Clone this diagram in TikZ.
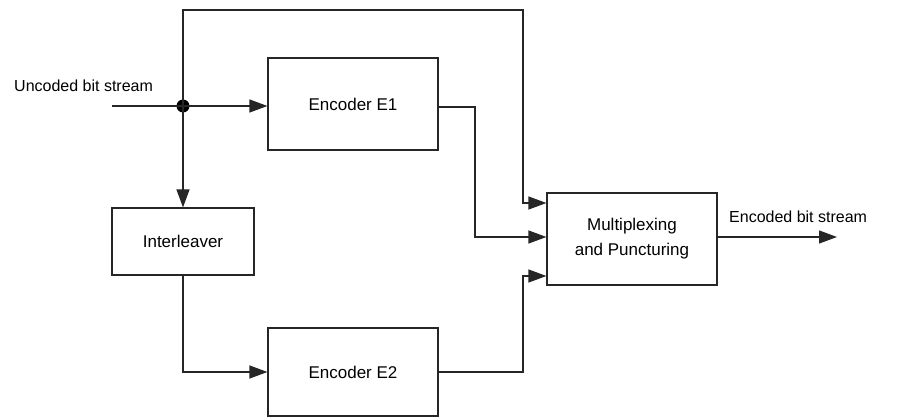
\documentclass[tikz,border=0pt]{standalone}
\usepackage{fontspec}
\setmainfont{Liberation Sans}
\usetikzlibrary{arrows.meta,calc}
\begin{document}
\begin{tikzpicture}[x=1pt,y=-1pt,
  blockbox/.style={draw=black!85,line width=1.2pt,inner sep=0pt,align=center,font=\fontsize{17}{25}\selectfont},
  wire/.style={draw=black!85,line width=1.2pt},
  arr/.style={wire,-{Triangle[length=18pt,width=13pt]}},
  lbl/.style={inner sep=0pt,font=\fontsize{16}{19}\selectfont}]
\useasboundingbox (0,0) rectangle (903,417);
\node[blockbox,minimum width=170pt,minimum height=92pt] (e1) at (353,104) {Encoder E1};
\node[blockbox,minimum width=170pt,minimum height=88pt] (e2) at (353,372) {Encoder E2};
\node[blockbox,minimum width=142pt,minimum height=67pt] (il) at (183,241.5) {Interleaver};
\node[blockbox,minimum width=170pt,minimum height=92pt] (mux) at (632,239) {Multiplexing\\and Puncturing};
\coordinate (in) at (112,106);
\coordinate (dot) at (183,106);
\coordinate (out) at (837,237);
\node[lbl,anchor=west] (inl) at (14,86) {Uncoded bit stream};
\node[lbl,anchor=west] (outl) at (729,217) {Encoded bit stream};
\fill[black] (dot) circle (6.5pt);
\draw[wire] (in) -- (dot);
\draw[arr] (dot) -- (dot -| e1.west);
\draw[arr] (dot) -- (il.north);
\draw[arr] (dot) -- (183,10) -- (523,10) -- (523,203) -- (mux.west |- 0,203);
\draw[arr] (e1.east |- 0,107) -- (475,107) -- (475,237) -- (mux.west |- 0,237);
\draw[arr] (e2.east) -- (523,372) -- (523,276) -- (mux.west |- 0,276);
\draw[arr] (il.south) -- (183,372) -- (e2.west);
\draw[arr] (mux.east |- out) -- (out);
\end{tikzpicture}
\end{document}
